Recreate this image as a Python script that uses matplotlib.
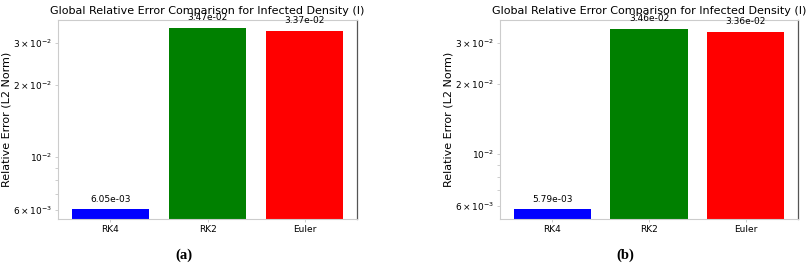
import matplotlib
matplotlib.use("Agg")
import matplotlib.pyplot as plt

# Data
methods = ["RK4", "RK2", "Euler"]
errors_a = [6.05e-03, 3.47e-02, 3.37e-02]
errors_b = [5.79e-03, 3.46e-02, 3.36e-02]
colors = ["blue", "green", "red"]
panel_labels = ["(a)", "(b)"]
ylims = [(5.50e-03, 3.74e-02), (5.26e-03, 3.77e-02)]

fig = plt.figure(figsize=(8.1, 2.73), dpi=100)
W, H = 810, 273
boxes = [(58, 20, 299, 199), (500, 20, 298, 199)]  # left, top, width, height in px

for box, errs, lab, ylim in zip(boxes, [errors_a, errors_b], panel_labels, ylims):
    l, t, w, h = box
    ax = fig.add_axes([l / W, 1 - (t + h) / H, w / W, h / H])
    bars = ax.bar(methods, errs, color=colors, width=0.8)
    ax.set_yscale("log")
    ax.set_ylim(*ylim)
    ax.set_xlim(-0.54, 2.54)
    ax.set_title("Global Relative Error Comparison for Infected Density (I)", fontsize=8, pad=4)
    ax.set_ylabel("Relative Error (L2 Norm)", fontsize=8, labelpad=1.5)
    ax.tick_params(axis="both", which="both", labelsize=6.5, length=2, width=0.5, color="#bbbbbb", pad=2)

    # Annotate values
    for bar, v in zip(bars, errs):
        ax.annotate(f"{v:.2e}", (bar.get_x() + bar.get_width() / 2, v),
                    xytext=(0, 4), textcoords="offset points",
                    ha="center", va="bottom", fontsize=6.5)

    for s in ["left", "bottom", "top"]:
        ax.spines[s].set_color("#cccccc")
        ax.spines[s].set_linewidth(0.8)
    ax.spines["right"].set_color("#555555")
    ax.spines["right"].set_linewidth(0.9)

    fig.text((l + w / 2 - 24) / W, 1 - 255 / H, lab, ha="center", va="center",
             fontsize=10.5, fontweight="bold", family="Liberation Serif")

fig.savefig("out.png", dpi=100)
